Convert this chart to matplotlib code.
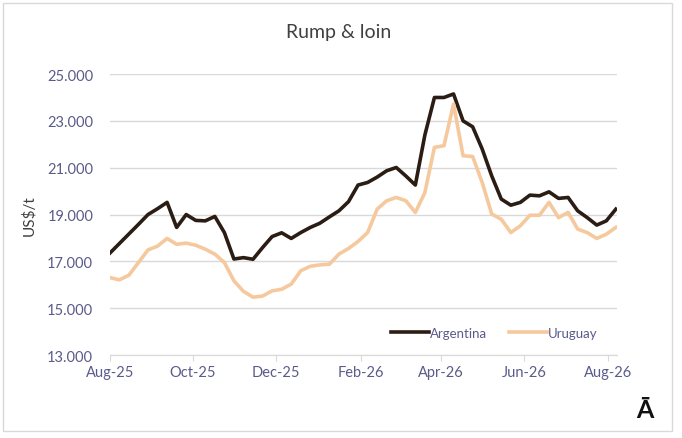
import matplotlib
matplotlib.use('Agg')
import matplotlib.pyplot as plt
import matplotlib.dates as mdates
import pandas as pd
from matplotlib.ticker import FuncFormatter

# weekly prices, US$/t
dates = pd.date_range('2025-08-01', periods=54, freq='7D')
argentina = [17350, 17760, 18170, 18580, 19000, 19250, 19520, 18450, 19000, 18750,
             18730, 18920, 18230, 17100, 17160, 17090, 17590, 18060, 18220, 17980,
             18230, 18450, 18630, 18900, 19160, 19550, 20260, 20370, 20600, 20870,
             21010, 20650, 20260, 22400, 24000, 24000, 24150, 23000, 22750, 21800,
             20650, 19660, 19400, 19520, 19830, 19800, 19970, 19690, 19730, 19160,
             18870, 18550, 18730, 19230]
uruguay = [16310, 16210, 16410, 16950, 17490, 17650, 17980, 17730, 17780, 17690,
           17520, 17310, 16950, 16170, 15720, 15470, 15520, 15740, 15810, 16030,
           16600, 16790, 16850, 16880, 17310, 17550, 17850, 18230, 19230, 19590,
           19730, 19590, 19090, 19940, 21870, 21940, 23720, 21510, 21480, 20370,
           19020, 18800, 18230, 18520, 18970, 18970, 19520, 18870, 19090, 18380,
           18230, 17980, 18160, 18450]
yticks = [13000, 15000, 17000, 19000, 21000, 23000, 25000]

plt.rcParams['font.family'] = ['Lato', 'DejaVu Sans']
tick_col = '#5a5b8a'

fig = plt.figure(figsize=(6.82, 4.39), dpi=100)
fig.patches.append(plt.Rectangle((0.005, 0.015), 0.98, 0.975, transform=fig.transFigure,
                                 fill=False, edgecolor='#d9d9d9', linewidth=1))
ax = fig.add_axes([0.161, 0.189, 0.744, 0.640])

ax.plot(dates, argentina, color='#2b1d14', linewidth=2.6, label='Argentina')
ax.plot(dates, uruguay, color='#f5c99d', linewidth=2.6, label='Uruguay')

ax.set_ylim(13000, 25000)
ax.set_yticks(yticks)
ax.yaxis.set_major_formatter(FuncFormatter(lambda v, p: f'{int(v):,}'.replace(',', '.')))
ax.set_xlim(pd.Timestamp('2025-08-01'), pd.Timestamp('2026-08-08'))
ax.xaxis.set_major_locator(mdates.MonthLocator(bymonth=[2, 4, 6, 8, 10, 12]))
ax.xaxis.set_major_formatter(mdates.DateFormatter('%b-%y'))

ax.grid(axis='y', color='#d9d9d9', linewidth=1)
ax.set_axisbelow(True)
for s in ['top', 'right', 'left']:
    ax.spines[s].set_visible(False)
ax.spines['bottom'].set_color('#d9d9d9')
ax.tick_params(axis='y', length=0, colors=tick_col, labelsize=10.5, pad=12)
ax.tick_params(axis='x', length=4, color='#d9d9d9', colors=tick_col, labelsize=10.5, pad=3)
for lbl in ax.get_xticklabels():
    lbl.set_color(tick_col)

ax.set_ylabel('US$/t', color='#404040', fontsize=11, labelpad=8)
fig.text(0.496, 0.925, 'Rump & loin', ha='center', va='center', fontsize=14, color='#404040')

leg = ax.legend(loc='lower right', bbox_to_anchor=(0.985, 0.015), ncol=2, frameon=False,
                fontsize=9.5, handlelength=2.9, handletextpad=0.1, columnspacing=1.6)
for t in leg.get_texts():
    t.set_color(tick_col)

fig.text(0.945, 0.065, 'Ā', ha='center', va='center', fontsize=18, fontweight='bold', color='#111111')

fig.savefig('out.png', dpi=100)
